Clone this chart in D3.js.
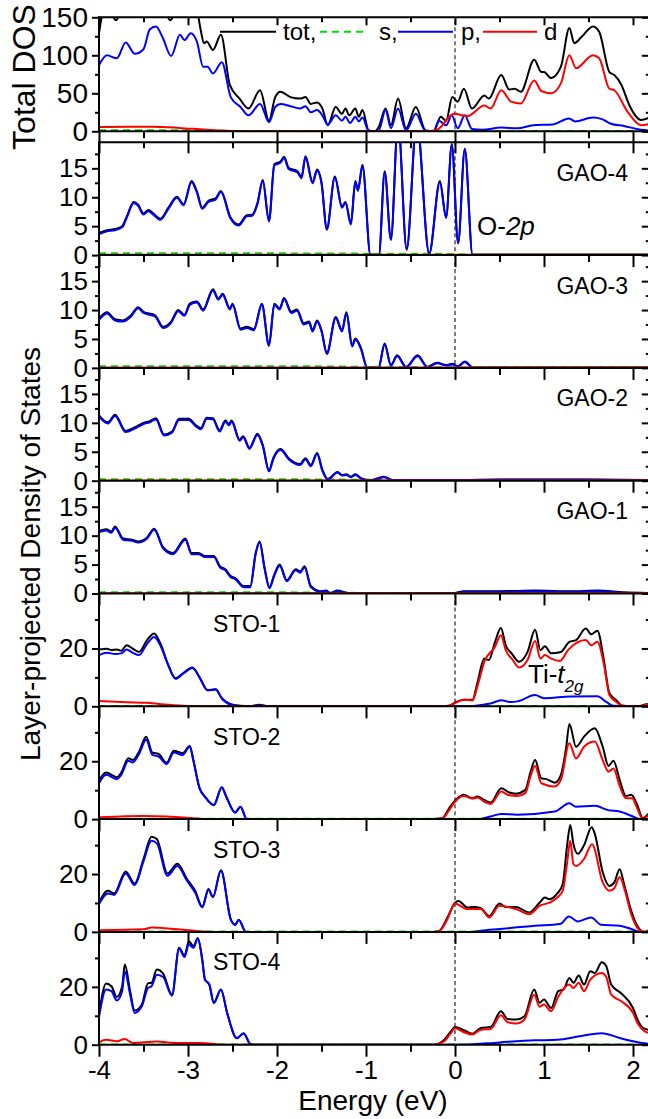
<!DOCTYPE html>
<html>
<head>
<meta charset="utf-8">
<script src="https://cdn.jsdelivr.net/npm/d3@7"></script>
<style>
  body { margin: 0; background: #fff; }
  svg { display: block; font-family: "Liberation Sans", Arial, sans-serif; }
</style>
</head>
<body>
<script>
// ---- data: [energy (eV), DOS] ----
const tot1 = [[-4,129],[-3.97,150],[-3.93,162],[-3.87,158],[-3.81,146],[-3.75,160],[-3.7,168],[-3.6,158],[-3.5,162],[-3.43,178],[-3.36,182],[-3.28,168],[-3.2,146],[-3.09,170],[-3.04,164],[-2.97,172],[-2.9,160],[-2.86,135],[-2.82,116],[-2.79,118],[-2.72,107],[-2.63,127],[-2.53,61],[-2.42,43],[-2.32,30],[-2.19,54],[-2.09,14],[-2.02,45],[-1.96,52],[-1.85,45],[-1.74,43],[-1.68,45],[-1.62,36],[-1.55,38],[-1.49,30],[-1.43,8],[-1.34,32],[-1.27,23],[-1.23,30],[-1.19,21],[-1.12,30],[-1.08,19],[-1.04,28],[-0.97,1],[-0.9,0],[-0.86,5],[-0.78,30],[-0.72,8],[-0.64,43],[-0.55,4],[-0.44,32],[-0.33,1],[-0.24,0],[-0.16,19],[-0.1,14],[-0.03,45],[0.03,39],[0.1,56],[0.19,30],[0.33,47],[0.38,43],[0.52,74],[0.61,55],[0.67,56],[0.74,52],[0.89,94],[0.97,78],[1.0,78],[1.08,70],[1.19,85],[1.285,136],[1.34,116],[1.42,124],[1.55,138],[1.62,131],[1.735,78],[1.79,74],[1.87,61],[1.96,34],[2.09,15],[2.2,19]];
const s1 = [[-4,1.5],[-3,1.5],[-2.5,0.5],[-2,0.3],[0,0.5],[2.2,0.5]];
const p1 = [[-4,87],[-3.91,100],[-3.8,96],[-3.7,117],[-3.6,102],[-3.5,108],[-3.43,134],[-3.36,138],[-3.28,122],[-3.19,99],[-3.09,127],[-3.04,120],[-2.97,129],[-2.9,118],[-2.83,85],[-2.78,85],[-2.72,76],[-2.62,91],[-2.52,45],[-2.41,32],[-2.32,21],[-2.19,36],[-2.09,12],[-2.02,32],[-1.96,36],[-1.85,33],[-1.74,30],[-1.68,33],[-1.62,25],[-1.55,28],[-1.49,21],[-1.43,9],[-1.34,21],[-1.27,14],[-1.23,19],[-1.18,11],[-1.12,19],[-1.08,13],[-1.04,18],[-0.97,0.5],[-0.86,0.5],[-0.78,28],[-0.72,4],[-0.64,30],[-0.55,1],[-0.44,23],[-0.33,0.5],[-0.24,0.5],[-0.18,14],[-0.1,8],[-0.036,21],[0.03,4],[0.11,21],[0.19,3],[0.3,2],[0.52,5],[0.7,4],[0.88,8],[1.1,9],[1.28,17],[1.35,13],[1.55,18],[1.65,16],[1.75,10],[1.9,7],[2.09,2],[2.2,1]];
const d1 = [[-4,5.5],[-3.7,6],[-3.4,6],[-3.1,4.5],[-2.8,2],[-2.5,0.5],[-2.2,0],[-0.3,0],[-0.2,2],[-0.01,23],[0.14,20],[0.33,34],[0.4,30],[0.52,54],[0.63,39],[0.74,36.5],[0.89,67],[0.97,53],[1.08,50],[1.19,63],[1.285,100],[1.36,83],[1.55,100],[1.62,96],[1.735,56],[1.79,54],[1.94,25.5],[2.09,8],[2.2,10]];

const p2 = [[-4,3.6],[-3.91,4.1],[-3.82,4.3],[-3.74,4.8],[-3.69,6.4],[-3.61,9.0],[-3.56,8.5],[-3.5,7.0],[-3.445,7.6],[-3.39,7.0],[-3.31,6.1],[-3.22,8.0],[-3.125,9.9],[-3.05,8.6],[-2.96,12.6],[-2.9,10.8],[-2.84,8.0],[-2.77,9.2],[-2.69,9.6],[-2.63,10.9],[-2.525,6.4],[-2.43,5.1],[-2.34,6.7],[-2.28,6.8],[-2.22,8.8],[-2.16,12.8],[-2.09,5.8],[-2.03,15.5],[-1.96,16.0],[-1.92,16.8],[-1.87,14.9],[-1.77,14.3],[-1.725,13.3],[-1.68,16.9],[-1.6,12.4],[-1.55,14.6],[-1.5,12.4],[-1.44,4.4],[-1.35,13.4],[-1.27,8.2],[-1.23,9.0],[-1.17,5.3],[-1.12,12.6],[-1.09,11.1],[-1.04,15.4],[-0.95,0],[-0.855,0],[-0.79,14.3],[-0.72,2.6],[-0.64,23],[-0.543,0.9],[-0.43,23],[-0.29,0.2],[-0.17,12.6],[-0.1,6.4],[-0.036,19.0],[0.035,2.0],[0.11,18.2],[0.197,0],[2.2,0]];
const tot2 = [[-4,3.8],[-3.91,4.3],[-3.82,4.5],[-3.74,5.0],[-3.69,6.6],[-3.61,9.2],[-3.56,8.7],[-3.5,7.2],[-3.445,7.8],[-3.39,7.2],[-3.31,6.3],[-3.22,8.2],[-3.125,10.1],[-3.05,8.8],[-2.96,12.8],[-2.9,11.0],[-2.84,8.2],[-2.77,9.4],[-2.69,9.8],[-2.63,11.1],[-2.525,6.6],[-2.43,5.3],[-2.34,6.9],[-2.28,7.0],[-2.22,9.0],[-2.16,13.0],[-2.09,6.0],[-2.03,15.7],[-1.96,16.2],[-1.92,17.0],[-1.87,15.1],[-1.77,14.5],[-1.725,13.5],[-1.68,17.1],[-1.6,12.6],[-1.55,14.8],[-1.5,12.6],[-1.44,4.6],[-1.35,13.6],[-1.27,8.4],[-1.23,9.2],[-1.17,5.5],[-1.12,12.8],[-1.09,11.3],[-1.04,15.6],[-0.95,0.1],[-0.855,0.1],[-0.79,14.5],[-0.72,2.8],[-0.64,23.2],[-0.543,1.1],[-0.43,23.2],[-0.29,0.3],[-0.17,12.8],[-0.1,6.6],[-0.036,19.2],[0.035,2.2],[0.11,18.4],[0.197,0.1],[2.2,0.1]];
const s2 = [[-4,0.3],[-2,0.3],[-1,0.25],[0,0.2],[0.25,0.05],[2.2,0.05]];
const d2 = [[-4,0.05],[2.2,0.05]];

const p3 = [[-4,8.3],[-3.91,9.4],[-3.82,8.2],[-3.73,8.0],[-3.64,8.9],[-3.56,10.3],[-3.5,9.5],[-3.37,8.9],[-3.28,6.9],[-3.19,7.8],[-3.11,9.8],[-3.04,9.0],[-2.98,10.9],[-2.9,11.3],[-2.83,9.9],[-2.72,13.4],[-2.66,11.8],[-2.61,12.6],[-2.53,10.1],[-2.5,10.9],[-2.41,6.6],[-2.34,6.9],[-2.26,6.5],[-2.17,10.9],[-2.09,3.8],[-2.03,10.9],[-1.97,10.1],[-1.92,11.9],[-1.84,9.5],[-1.775,9.9],[-1.7,7.5],[-1.64,7.8],[-1.6,6.3],[-1.55,8.0],[-1.5,6.3],[-1.44,2.4],[-1.34,8.6],[-1.27,6.3],[-1.22,9.4],[-1.155,3.7],[-1.12,4.9],[-1.06,3.4],[-0.985,0],[-0.86,0],[-0.79,4.0],[-0.72,0.4],[-0.65,2.0],[-0.55,0.1],[-0.42,2.0],[-0.31,0.1],[-0.2,0.8],[-0.1,0.4],[-0.03,0.6],[0.03,0.2],[0.11,1.0],[0.2,0],[2.2,0]];
const tot3 = [[-4,8.5],[-3.91,9.6],[-3.82,8.4],[-3.73,8.2],[-3.64,9.1],[-3.56,10.5],[-3.5,9.7],[-3.37,9.1],[-3.28,7.1],[-3.19,8.0],[-3.11,10.0],[-3.04,9.2],[-2.98,11.1],[-2.9,11.5],[-2.83,10.1],[-2.72,13.6],[-2.66,12.0],[-2.61,12.8],[-2.53,10.3],[-2.5,11.1],[-2.41,6.8],[-2.34,7.1],[-2.26,6.7],[-2.17,11.1],[-2.09,4.0],[-2.03,11.1],[-1.97,10.3],[-1.92,12.1],[-1.84,9.7],[-1.775,10.1],[-1.7,7.7],[-1.64,8.0],[-1.6,6.5],[-1.55,8.2],[-1.5,6.5],[-1.44,2.6],[-1.34,8.8],[-1.27,6.5],[-1.22,9.6],[-1.155,3.9],[-1.12,5.1],[-1.06,3.6],[-0.985,0.1],[-0.86,0.1],[-0.79,4.2],[-0.72,0.5],[-0.65,2.2],[-0.55,0.2],[-0.42,2.2],[-0.31,0.2],[-0.2,0.9],[-0.1,0.5],[-0.03,0.7],[0.03,0.3],[0.11,1.1],[0.2,0.1],[2.2,0.1]];
const s3 = [[-4,0.3],[-2,0.3],[-1,0.2],[0,0.1],[0.25,0.05],[2.2,0.05]];
const d3_ = [[-4,0.05],[2.2,0.05]];

const p4 = [[-4,11.1],[-3.9,9.9],[-3.82,11.2],[-3.7,8.4],[-3.6,9.0],[-3.5,9.8],[-3.43,10.1],[-3.36,10.6],[-3.27,7.8],[-3.18,8.3],[-3.1,10.5],[-2.99,10.5],[-2.92,9.5],[-2.855,8.9],[-2.79,10.7],[-2.72,10.6],[-2.645,8.5],[-2.58,10.2],[-2.54,9.6],[-2.51,10.2],[-2.42,6.9],[-2.38,7.5],[-2.31,5.5],[-2.22,7.9],[-2.16,6.0],[-2.09,1.6],[-2.04,3.8],[-1.96,5.3],[-1.87,3.7],[-1.74,2.7],[-1.68,3.7],[-1.62,2.5],[-1.55,4.6],[-1.49,1.7],[-1.43,0.2],[-1.32,1.4],[-1.27,0.9],[-1.22,1.0],[-1.17,0.6],[-1.12,1.0],[-1.05,0.3],[-0.95,0],[-0.8,0.6],[-0.7,0.1],[0,0.1],[0.5,0.15],[1.5,0.15],[2.2,0]];
const tot4 = [[-4,11.3],[-3.9,10.1],[-3.82,11.4],[-3.7,8.6],[-3.6,9.2],[-3.5,10.0],[-3.43,10.3],[-3.36,10.8],[-3.27,8.0],[-3.18,8.5],[-3.1,10.7],[-2.99,10.7],[-2.92,9.7],[-2.855,9.1],[-2.79,10.9],[-2.72,10.8],[-2.645,8.7],[-2.58,10.4],[-2.54,9.8],[-2.51,10.4],[-2.42,7.1],[-2.38,7.7],[-2.31,5.7],[-2.22,8.1],[-2.16,6.2],[-2.09,1.8],[-2.04,4.0],[-1.96,5.5],[-1.87,3.9],[-1.74,2.9],[-1.68,3.9],[-1.62,2.7],[-1.55,4.8],[-1.49,1.9],[-1.43,0.3],[-1.32,1.5],[-1.27,1.0],[-1.22,1.1],[-1.17,0.7],[-1.12,1.1],[-1.05,0.4],[-0.95,0.1],[-0.8,0.7],[-0.7,0.1],[0,0.1],[0.5,0.2],[1.5,0.2],[2.2,0.1]];
const s4 = [[-4,0.25],[-2,0.25],[-1,0.15],[0,0.05],[2.2,0.05]];
const d4 = [[-4,0.05],[2.2,0.05]];

const p5 = [[-4,10.6],[-3.92,10.9],[-3.86,10.5],[-3.82,11.4],[-3.73,9.3],[-3.63,9.1],[-3.56,8.8],[-3.46,9.5],[-3.38,11.0],[-3.28,7.8],[-3.17,6.8],[-3.03,9.3],[-2.96,6.8],[-2.88,6.8],[-2.81,6.3],[-2.71,6.3],[-2.64,4.5],[-2.58,4.0],[-2.52,2.8],[-2.47,2.5],[-2.375,1.1],[-2.3,1.1],[-2.24,6.8],[-2.195,8.8],[-2.14,4.3],[-2.085,0.9],[-2.03,3.1],[-1.97,4.8],[-1.89,2.1],[-1.79,4.0],[-1.74,3.6],[-1.69,4.5],[-1.62,1.1],[-1.51,0.3],[-1.45,0.4],[-1.4,0.05],[-1.32,0.4],[-1.2,0],[0,0],[0.1,0.3],[0.5,0.3],[0.9,0.4],[1.3,0.3],[1.6,0.4],[1.9,0.1],[2.2,0]];
const tot5 = [[-4,10.8],[-3.92,11.1],[-3.86,10.7],[-3.82,11.6],[-3.73,9.5],[-3.63,9.3],[-3.56,9.0],[-3.46,9.7],[-3.38,11.2],[-3.28,8.0],[-3.17,7.0],[-3.03,9.5],[-2.96,7.0],[-2.88,7.0],[-2.81,6.5],[-2.71,6.5],[-2.64,4.7],[-2.58,4.2],[-2.52,3.0],[-2.47,2.7],[-2.375,1.3],[-2.3,1.3],[-2.24,7.0],[-2.195,9.0],[-2.14,4.5],[-2.085,1.1],[-2.03,3.3],[-1.97,5.0],[-1.89,2.3],[-1.79,4.2],[-1.74,3.8],[-1.69,4.7],[-1.62,1.3],[-1.51,0.4],[-1.45,0.5],[-1.4,0.1],[-1.32,0.5],[-1.2,0.1],[0,0.1],[0.1,0.4],[0.5,0.4],[0.9,0.5],[1.3,0.4],[1.6,0.5],[1.9,0.2],[2.2,0.1]];
const s5 = [[-4,0.2],[-2,0.2],[-1,0.1],[0,0.05],[2.2,0.05]];
const d5 = [[-4,0.05],[2.2,0.05]];

const tot6 = [[-4,19.6],[-3.91,19.9],[-3.86,19.5],[-3.8,19.6],[-3.75,19.2],[-3.69,21.1],[-3.62,19.9],[-3.55,18.8],[-3.46,22.9],[-3.38,25.2],[-3.31,21.7],[-3.22,14.2],[-3.14,9.7],[-3.05,11.6],[-2.95,13.4],[-2.87,10.0],[-2.78,5.6],[-2.69,5.9],[-2.62,2.8],[-2.52,0.7],[-2.41,0.2],[-2.3,0.1],[-2.2,0.5],[-2.1,0.1],[-0.2,0],[-0.065,0.2],[0,1.3],[0.1,2.3],[0.197,2.3],[0.25,7.9],[0.33,16.5],[0.38,16.0],[0.45,22.3],[0.516,27.1],[0.57,21.1],[0.636,18.3],[0.72,15.4],[0.815,18.8],[0.9,26.5],[0.96,19.4],[1.01,20.8],[1.08,18.3],[1.19,18.8],[1.285,22.3],[1.36,22.9],[1.47,26.9],[1.53,24.9],[1.6,26.1],[1.67,16.5],[1.735,4.5],[1.81,2.2],[1.885,0.2],[2.05,0],[2.15,0.7],[2.2,1.0]];
const s6 = [[-4,0.1],[2.2,0.1]];
const p6 = [[-4,17.7],[-3.91,18.5],[-3.82,18.1],[-3.75,18.3],[-3.69,19.6],[-3.62,18.5],[-3.55,17.7],[-3.46,21.6],[-3.38,24.0],[-3.31,21.0],[-3.22,14.0],[-3.14,9.5],[-3.05,11.4],[-2.95,13.2],[-2.87,9.9],[-2.78,5.5],[-2.69,5.8],[-2.62,2.7],[-2.52,0.6],[-2.41,0.1],[-2.3,0.05],[-2.2,0.4],[-2.1,0],[0.2,0],[0.25,0.3],[0.4,1.0],[0.52,2.1],[0.62,1.5],[0.7,1.7],[0.9,3.9],[1.0,2.8],[1.3,3.4],[1.6,3.5],[1.7,1.5],[1.78,0.2],[2.2,0]];
const d6 = [[-4,1.8],[-3.69,1.4],[-3.46,1.2],[-3.22,0.5],[-3.0,0.1],[-2.8,0],[-0.2,0],[-0.065,0.2],[0,1.1],[0.1,2.3],[0.197,2.0],[0.25,6.7],[0.33,15.4],[0.45,20.6],[0.516,24.6],[0.57,19.4],[0.65,16.0],[0.72,13.4],[0.815,16.0],[0.9,22.6],[0.96,16.5],[1.01,17.7],[1.08,16.5],[1.18,15.7],[1.27,19.4],[1.47,22.9],[1.53,21.1],[1.6,22.3],[1.67,15.0],[1.735,3.9],[1.81,1.6],[1.885,0.2],[2.05,0],[2.15,0.5],[2.2,0.8]];

const tot7 = [[-4,13.3],[-3.92,16.1],[-3.8,14.5],[-3.75,16.1],[-3.67,21.0],[-3.62,20.4],[-3.55,23.3],[-3.47,28.5],[-3.4,23.0],[-3.33,22.5],[-3.24,19.5],[-3.16,23.6],[-3.06,22.8],[-2.98,25.3],[-2.94,20.4],[-2.87,10.7],[-2.81,7.8],[-2.71,4.9],[-2.62,11.0],[-2.57,7.8],[-2.47,2.3],[-2.41,4.3],[-2.34,0],[-0.26,0],[-0.14,0.4],[-0.065,3.8],[0,6.4],[0.1,8.4],[0.197,7.2],[0.25,7.8],[0.33,6.6],[0.4,5.7],[0.52,10.7],[0.61,9.2],[0.685,8.8],[0.79,10.1],[0.85,16.4],[0.9,20.4],[0.97,14.1],[1.02,13.9],[1.12,12.6],[1.19,15.3],[1.25,25.0],[1.285,32.9],[1.36,25.0],[1.45,28.5],[1.57,31.4],[1.66,25.0],[1.725,18.4],[1.78,20.2],[1.85,13.6],[1.92,8.0],[1.98,8.4],[2.04,5.5],[2.11,0.4],[2.18,2.0],[2.2,2.5]];
const s7 = [[-4,0.1],[2.2,0.1]];
const p7 = [[-4,12.4],[-3.92,15.3],[-3.8,13.8],[-3.75,15.3],[-3.67,20.2],[-3.62,19.6],[-3.55,22.5],[-3.47,27.4],[-3.4,22.2],[-3.33,21.6],[-3.24,19.0],[-3.16,23.0],[-3.06,22.2],[-2.98,25.1],[-2.94,20.3],[-2.87,10.6],[-2.81,7.7],[-2.71,4.8],[-2.62,10.9],[-2.57,7.7],[-2.47,2.2],[-2.41,4.2],[-2.34,0],[0.25,0],[0.4,0.9],[0.52,1.8],[0.7,1.5],[1.12,2.6],[1.285,5.5],[1.36,4.3],[1.57,4.6],[1.72,3.1],[1.85,2.6],[2.0,0.9],[2.08,0],[2.2,0]];
const d7 = [[-4,0.6],[-3.7,1.0],[-3.5,1.1],[-3.24,0.9],[-2.94,0.3],[-2.8,0],[-0.26,0],[-0.14,0.3],[-0.065,3.1],[0,6.0],[0.1,8.0],[0.197,7.1],[0.25,7.5],[0.33,6.0],[0.4,5.2],[0.52,9.5],[0.6,8.3],[0.7,8.0],[0.79,9.0],[0.85,15.0],[0.9,18.4],[0.97,12.4],[1.12,11.3],[1.19,13.6],[1.285,26.2],[1.36,21.0],[1.45,25.0],[1.57,26.8],[1.66,20.4],[1.725,16.4],[1.78,17.5],[1.85,11.5],[1.92,7.2],[1.99,7.2],[2.04,4.3],[2.11,0],[2.18,1.5],[2.2,2.0]];

const tot8 = [[-4,10.1],[-3.9,14.2],[-3.83,13.3],[-3.7,20.9],[-3.6,16.7],[-3.5,25.2],[-3.41,32.9],[-3.35,32.1],[-3.23,20.2],[-3.12,23.6],[-3.01,18.2],[-2.92,14.2],[-2.84,8.7],[-2.77,14.8],[-2.72,12.1],[-2.63,21.3],[-2.52,4.4],[-2.47,2.5],[-2.43,4.2],[-2.35,0],[-0.25,0],[-0.18,0.3],[-0.085,5.0],[0,10.1],[0.04,10.7],[0.14,8.4],[0.215,8.6],[0.29,8.2],[0.384,5.5],[0.5,9.8],[0.57,8.6],[0.685,8.6],[0.835,6.7],[0.95,10.1],[1.01,11.9],[1.06,11.3],[1.15,13.3],[1.21,16.5],[1.26,30],[1.295,37.0],[1.33,30.5],[1.38,27.0],[1.45,30.0],[1.535,36.2],[1.57,34.0],[1.66,20.6],[1.735,15.9],[1.79,17.1],[1.85,21.7],[1.9,16.5],[1.98,7.3],[2.06,1.5],[2.13,0],[2.2,1.1]];
const s8 = [[-4,0.1],[2.2,0.1]];
const p8 = [[-4,9.6],[-3.9,13.3],[-3.83,12.8],[-3.7,20.2],[-3.6,16.2],[-3.5,24.4],[-3.41,31.5],[-3.35,30.6],[-3.23,19.4],[-3.12,22.8],[-3.01,17.6],[-2.92,13.6],[-2.84,8.5],[-2.77,14.6],[-2.72,12.0],[-2.63,21.2],[-2.52,4.3],[-2.47,2.4],[-2.43,4.1],[-2.35,0],[0.2,0],[0.29,0.4],[0.5,1.0],[0.9,2.1],[1.18,2.7],[1.28,5.3],[1.38,3.6],[1.53,5.0],[1.64,2.5],[1.85,2.1],[1.98,1.0],[2.08,0],[2.2,0]];
const d8 = [[-4,0.6],[-3.5,0.9],[-3.41,1.5],[-3.12,0.9],[-2.9,0.3],[-2.7,0],[-0.25,0],[-0.18,0.2],[-0.085,4.4],[0,9.8],[0.14,7.9],[0.29,7.9],[0.384,5.0],[0.5,9.0],[0.685,7.9],[0.835,6.1],[0.95,9.0],[1.06,10.1],[1.15,11.9],[1.21,14.2],[1.26,24],[1.295,31.5],[1.33,23.5],[1.36,22.8],[1.45,25.2],[1.54,30.3],[1.66,17.1],[1.735,14.2],[1.79,15.1],[1.85,19.0],[1.91,14.2],[1.98,6.1],[2.06,1.0],[2.13,0],[2.2,0.7]];

const tot9 = [[-4,10.4],[-3.92,21.2],[-3.86,20.2],[-3.8,16.5],[-3.74,20.2],[-3.71,27.7],[-3.65,18.5],[-3.6,11.8],[-3.52,13.8],[-3.45,21.2],[-3.41,21.4],[-3.35,26.0],[-3.28,24.6],[-3.18,17.3],[-3.1,33.5],[-3.04,30.8],[-2.99,35.8],[-2.94,34.1],[-2.89,36.9],[-2.84,29.5],[-2.81,22.6],[-2.76,20.8],[-2.71,14.5],[-2.63,19.1],[-2.56,11.0],[-2.45,2.3],[-2.375,4.0],[-2.3,0.3],[-2.26,0],[-0.235,0],[-0.12,1.7],[-0.047,4.6],[0,6.1],[0.1,5.0],[0.197,3.8],[0.29,5.8],[0.4,6.1],[0.516,11.6],[0.59,8.9],[0.685,8.7],[0.78,9.8],[0.89,19.1],[0.95,14.5],[1.0,15.6],[1.08,12.7],[1.16,18.5],[1.22,19.1],[1.285,23.1],[1.33,21.4],[1.39,23.9],[1.45,20.8],[1.52,25.4],[1.57,24.8],[1.65,28.5],[1.7,27.1],[1.755,20.8],[1.87,17.7],[2.0,12.7],[2.05,8.7],[2.11,5.8],[2.2,5.0]];
const s9 = [[-4,0.1],[2.2,0.1]];
const p9 = [[-4,9.6],[-3.92,19.1],[-3.86,18.5],[-3.8,15.3],[-3.74,18.5],[-3.71,25.4],[-3.65,17.3],[-3.6,11.0],[-3.52,13.2],[-3.45,19.6],[-3.41,20.2],[-3.35,24.2],[-3.28,23.4],[-3.18,16.9],[-3.1,33.2],[-3.04,30.3],[-2.99,34.7],[-2.94,33.5],[-2.89,36.6],[-2.84,29.3],[-2.81,22.5],[-2.76,20.7],[-2.71,14.4],[-2.63,19.0],[-2.56,10.9],[-2.45,2.2],[-2.375,3.9],[-2.3,0.2],[-2.26,0],[0.1,0],[0.5,0.8],[0.9,1.5],[1.15,1.7],[1.4,2.9],[1.65,4.0],[1.85,2.3],[2.1,0.6],[2.2,0.2]];
const d9 = [[-4,0.8],[-3.92,1.7],[-3.8,1.2],[-3.71,2.0],[-3.62,0.6],[-3.35,1.1],[-3.15,0.6],[-2.85,0.6],[-2.65,0.1],[-2.5,0],[-0.235,0],[-0.12,1.2],[-0.047,4.0],[0,5.7],[0.1,4.3],[0.197,3.5],[0.29,5.2],[0.4,5.4],[0.516,10.2],[0.59,7.8],[0.685,7.3],[0.78,8.7],[0.89,17.3],[0.95,13.1],[1.0,13.9],[1.08,11.6],[1.16,16.6],[1.285,20.8],[1.33,19.6],[1.39,21.4],[1.45,18.5],[1.52,22.5],[1.65,24.8],[1.7,23.4],[1.755,17.3],[1.87,15.0],[2.0,11.0],[2.05,7.5],[2.11,5.2],[2.2,3.8]];

const panelNames = ["", "GAO-4", "GAO-3", "GAO-2", "GAO-1", "STO-1", "STO-2", "STO-3", "STO-4"];
const totList = [tot1, tot2, tot3, tot4, tot5, tot6, tot7, tot8, tot9];
const sList = [s1, s2, s3, s4, s5, s6, s7, s8, s9];
const pList = [p1, p2, p3, p4, p5, p6, p7, p8, p9];
const dList = [d1, d2, d3_, d4, d5, d6, d7, d8, d9];
const yMaxes = [150, 19.5, 19.5, 19.5, 19.5, 39, 39, 39, 39];
const yLabelTicks = [[0,50,100,150], [0,5,10,15], [0,5,10,15], [0,5,10,15], [0,5,10,15], [0,20], [0,20], [0,20], [0,20]];
const yMinorTicks = [[25,75,125], [2.5,7.5,12.5,17.5], [2.5,7.5,12.5,17.5], [2.5,7.5,12.5,17.5], [2.5,7.5,12.5,17.5], [10,30], [10,30], [10,30], [10,30]];
const fermiPanels = [0, 1, 2, 5, 6, 7, 8];
const xMajor = [-4, -3, -2, -1, 0, 1, 2];
const xMinor = [-3.5, -2.5, -1.5, -0.5, 0.5, 1.5];
const legendNames = ["tot,", "s,", "p,", "d"];

// ---- layout ----
const W = 648, H = 1119;
const left = 99, right = 650.8;
const panelH = 112.8;
const tops = [17.3, 142.3];
for (let i = 2; i < 9; i++) tops.push(142.3 + (i - 1) * panelH);

const colors = { tot: "#000", s: "#00dd00", p: "#0000ff", d: "#ff0000" };
const fontFam = '"Liberation Sans", Arial, sans-serif';

const svg = d3.select("body").append("svg")
  .attr("width", W).attr("height", H);

const x = d3.scaleLinear().domain([-4, 2.2]).range([left, right]);

const line = (ys) => d3.line()
  .x(d => x(d[0]))
  .y(d => ys(d[1]))
  .curve(d3.curveMonotoneX);

function styleAxis(g, size) {
  g.select(".domain").remove();
  g.selectAll(".tick line").attr("stroke", "#000").attr("stroke-width", 2);
  g.selectAll(".tick text").attr("font-size", size).attr("font-family", fontFam).attr("fill", "#000");
}

tops.forEach((top, i) => {
  const bottom = top + (i === 0 ? 114 : panelH);
  const y = d3.scaleLinear().domain([0, yMaxes[i]]).range([bottom, top]);
  const g = svg.append("g");

  g.append("clipPath").attr("id", "clip" + i)
    .append("rect").attr("x", left).attr("y", top).attr("width", right - left).attr("height", bottom - top);

  const plot = g.append("g").attr("clip-path", `url(#clip${i})`);

  if (fermiPanels.includes(i)) {
    plot.append("line")
      .attr("x1", x(0)).attr("x2", x(0))
      .attr("y1", i === 0 ? top + 3 : top).attr("y2", bottom)
      .attr("stroke", "#111").attr("stroke-width", 1.1).attr("stroke-dasharray", "4,3");
  }

  const series = [
    [totList[i], colors.tot, null],
    [sList[i], colors.s, "7,5"],
    [pList[i], colors.p, null],
    [dList[i], colors.d, null]
  ];
  series.forEach(([data, col, dash]) => {
    plot.append("path")
      .datum(data)
      .attr("d", line(y))
      .attr("fill", "none")
      .attr("stroke", col)
      .attr("stroke-width", 2)
      .attr("stroke-linejoin", "round")
      .attr("stroke-dasharray", dash);
  });

  // y axes
  const yl = g.append("g").attr("transform", `translate(${left},0)`)
    .call(d3.axisLeft(y).tickValues(yLabelTicks[i]).tickSize(7).tickPadding(4).tickFormat(d3.format("d")));
  styleAxis(yl, i === 0 ? 28 : 26);
  const ylm = g.append("g").attr("transform", `translate(${left},0)`)
    .call(d3.axisLeft(y).tickValues(yMinorTicks[i]).tickSize(4).tickFormat(""));
  styleAxis(ylm, 10);
  const yr = g.append("g").attr("transform", `translate(${right},0)`)
    .call(d3.axisLeft(y).tickValues(yLabelTicks[i]).tickSize(9).tickFormat(""));
  styleAxis(yr, 10);
  const yrm = g.append("g").attr("transform", `translate(${right},0)`)
    .call(d3.axisLeft(y).tickValues(yMinorTicks[i]).tickSize(5).tickFormat(""));
  styleAxis(yrm, 10);

  // bottom axis, ticks pointing down
  const xb = g.append("g").attr("transform", `translate(0,${bottom})`)
    .call(d3.axisBottom(x).tickValues(xMajor).tickSize(12).tickPadding(4)
      .tickFormat(i === 8 ? d3.format("d") : ""));
  styleAxis(xb, 26);
  xb.selectAll(".tick text").text(d => i === 8 ? String(d) : "");
  const xbm = g.append("g").attr("transform", `translate(0,${bottom})`)
    .call(d3.axisBottom(x).tickValues(xMinor).tickSize(7).tickFormat(""));
  styleAxis(xbm, 10);

  // top axis of the first two panels, ticks pointing in
  if (i < 2) {
    const xt = g.append("g").attr("transform", `translate(0,${top})`)
      .call(d3.axisBottom(x).tickValues(xMajor).tickSize(i === 0 ? 8 : 11).tickFormat(""));
    styleAxis(xt, 10);
    const xtm = g.append("g").attr("transform", `translate(0,${top})`)
      .call(d3.axisBottom(x).tickValues(xMinor).tickSize(i === 0 ? 5 : 6).tickFormat(""));
    styleAxis(xtm, 10);
    g.append("line").attr("x1", left - 1).attr("x2", right).attr("y1", top).attr("y2", top)
      .attr("stroke", "#000").attr("stroke-width", 2);
  }

  // frame
  g.append("line").attr("x1", left).attr("x2", left).attr("y1", top - 1).attr("y2", bottom + 1)
    .attr("stroke", "#000").attr("stroke-width", 2);
  g.append("line").attr("x1", right).attr("x2", right).attr("y1", top).attr("y2", bottom)
    .attr("stroke", "#000").attr("stroke-width", 2);
  g.append("line").attr("x1", left - 1).attr("x2", right).attr("y1", bottom).attr("y2", bottom)
    .attr("stroke", "#000").attr("stroke-width", 2);

  // panel label
  if (panelNames[i]) {
    const isGAO = panelNames[i].startsWith("GAO");
    g.append("text")
      .attr("x", isGAO ? 628 : 213)
      .attr("y", top + 38.5)
      .attr("text-anchor", isGAO ? "end" : "start")
      .attr("font-size", 23)
      .text(panelNames[i]);
  }
});

// legend in the top panel
const legendX = [[220, 276, 283], [320, 367, 379], [398, 453, 461], [483, 537, 544]];
const legendCols = [colors.tot, colors.s, colors.p, colors.d];
const legendDash = [null, "7,5", null, null];
legendNames.forEach((name, k) => {
  svg.append("line")
    .attr("x1", legendX[k][0]).attr("x2", legendX[k][1])
    .attr("y1", 31.7).attr("y2", 31.7)
    .attr("stroke", legendCols[k]).attr("stroke-width", 2)
    .attr("stroke-dasharray", legendDash[k]);
  svg.append("text")
    .attr("x", legendX[k][2]).attr("y", 40)
    .attr("font-size", 24)
    .text(name);
});

// annotations
const o2p = svg.append("text").attr("x", 477).attr("y", 235).attr("font-size", 26);
o2p.append("tspan").text("O-");
o2p.append("tspan").attr("font-style", "italic").text("2p");

const ti = svg.append("text").attr("x", 528).attr("y", 683).attr("font-size", 26);
ti.append("tspan").text("Ti-");
ti.append("tspan").attr("font-style", "italic").text("t");
ti.append("tspan").attr("font-style", "italic").attr("font-size", 17).attr("dy", 9).text("2g");

// axis titles
svg.append("text")
  .attr("transform", "translate(35,77) rotate(-90)")
  .attr("text-anchor", "middle").attr("font-size", 32)
  .text("Total DOS");
svg.append("text")
  .attr("transform", "translate(40,554) rotate(-90)")
  .attr("text-anchor", "middle").attr("font-size", 28)
  .text("Layer-projected Density of States");
svg.append("text")
  .attr("x", 373).attr("y", 1110)
  .attr("text-anchor", "middle").attr("font-size", 28)
  .text("Energy (eV)");
</script>
</body>
</html>
